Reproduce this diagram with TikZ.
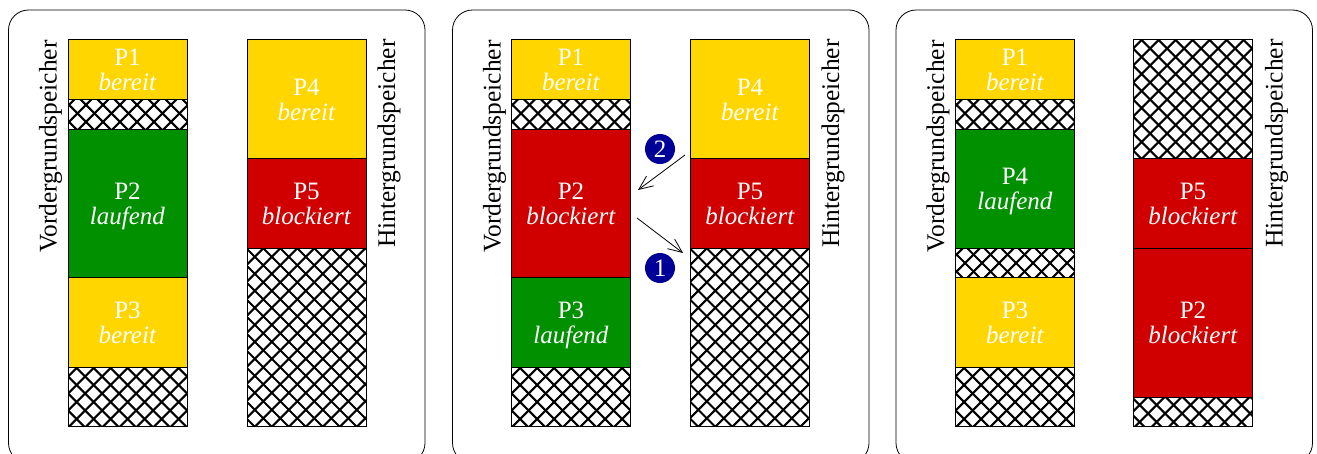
\documentclass[tikz,border=0pt]{standalone}
\usepackage{fontspec}
\setmainfont{Liberation Serif}
\usetikzlibrary{arrows.meta}
\definecolor{ygold}{RGB}{255,214,0}
\definecolor{rred}{RGB}{208,0,0}
\definecolor{ggreen}{RGB}{0,144,0}
\definecolor{nblue}{RGB}{0,0,153}
\tikzset{
  x=1pt,y=-1pt,
  panel/.style={draw=black,line width=0.8pt,rounded corners=20pt},
  block/.style={draw=black,line width=0.8pt,text=white,inner sep=0pt,outer sep=0pt,align=center,minimum width=119pt,anchor=north west,font=\fontsize{25}{25}\selectfont},
  voidblock/.style={inner sep=0pt,outer sep=0pt,minimum width=119pt,anchor=north west},
  memlabel/.style={rotate=90,inner sep=0pt,font=\fontsize{25.4}{26}\selectfont,text=black},
  badge/.style={circle,fill=nblue,text=white,inner sep=0pt,minimum size=30pt,font=\fontsize{25}{26}\selectfont},
  move/.style={draw=black,line width=0.8pt,-{Straight Barb[length=14pt,width=12pt,line width=0.8pt]}},
}
% \blk{name}{x}{y1}{y2}{colour}{first line}{second line}
\newcommand{\blk}[7]{%
  \pgfmathsetmacro{\hh}{#4-#3}%
  \node[block,fill=#5,minimum height=\hh pt] (#1) at (#2,#3) {\rule{0pt}{24.5pt}#6\\\strut\textit{#7}};}
% \hatchblk{name}{x}{y1}{y2}{crossing x offset}{crossing y offset}
\newcommand{\hatchblk}[6]{%
  \pgfmathsetmacro{\hh}{#4-#3}%
  \node[voidblock,minimum height=\hh pt] (#1) at (#2,#3) {};
  \begin{scope}
    \clip (#2,#3) rectangle ++(119,\hh);
    \foreach \k in {-40,...,40}{
      \draw[line width=2.1pt] (#2+#5+\k*17-300,#3+#6-300) -- ++(600,600);
      \draw[line width=2.1pt] (#2+#5+\k*17+300,#3+#6-300) -- ++(-600,600);
    }
  \end{scope}
  \draw[line width=0.8pt] (#2,#3) rectangle ++(119,\hh);}
% \frameset{prefix}{offset}
\newcommand{\frameset}[2]{%
  \draw[panel] (#2+8.5,10) rectangle (#2+425,463);
  \node[memlabel] (#1v) at (#2+50.5,146.5) {Vordergrundspeicher};
  \node[memlabel] (#1h) at (#2+389,143.5) {Hintergrundspeicher};}
\begin{document}
\begin{tikzpicture}
\useasboundingbox (0,0) rectangle (1317,453);
\clip (0,0) rectangle (1317,453);
% panel 1
\frameset{a}{0}
\blk{a1}{68}{39.5}{99}{ygold}{P1}{bereit}
\hatchblk{ah1}{68}{99}{129}{9.5}{14.3}
\blk{a2}{68}{129}{277.5}{ggreen}{P2}{laufend}
\blk{a3}{68}{277.5}{367}{ygold}{P3}{bereit}
\hatchblk{ah2}{68}{367}{426.5}{8.7}{1}
\blk{a4}{247}{39.5}{158.5}{ygold}{P4}{bereit}
\blk{a5}{247}{158.5}{248}{rred}{P5}{blockiert}
\hatchblk{ah3}{247}{248}{426.5}{16.3}{0.3}
% panel 2
\frameset{b}{444}
\blk{b1}{511.5}{39.5}{99}{ygold}{P1}{bereit}
\hatchblk{bh1}{511.5}{99}{129}{9.5}{14.3}
\blk{b2}{511.5}{129}{277.5}{rred}{P2}{blockiert}
\blk{b3}{511.5}{277.5}{367}{ggreen}{P3}{laufend}
\hatchblk{bh2}{511.5}{367}{426.5}{8.7}{1}
\blk{b4}{690.5}{39.5}{158.5}{ygold}{P4}{bereit}
\blk{b5}{690.5}{158.5}{248}{rred}{P5}{blockiert}
\hatchblk{bh3}{690.5}{248}{426.5}{16.3}{0.3}
\node[badge] (n2) at (660,149) {2};
\node[badge] (n1) at (660,268) {1};
\coordinate (s2) at (685,155);
\coordinate (e2) at (638,190);
\coordinate (s1) at (637,218);
\coordinate (e1) at (683,253);
\draw[move] (s2) -- (e2);
\draw[move] (s1) -- (e1);
% panel 3
\frameset{c}{887.5}
\blk{c1}{955.5}{39.5}{99}{ygold}{P1}{bereit}
\hatchblk{ch1}{955.5}{99}{129}{9.5}{14.3}
\blk{c2}{955.5}{129}{248}{ggreen}{P4}{laufend}
\hatchblk{ch2}{955.5}{248}{277.5}{9.5}{15}
\blk{c3}{955.5}{277.5}{367}{ygold}{P3}{bereit}
\hatchblk{ch3}{955.5}{367}{426.5}{8.7}{1}
\hatchblk{ch4}{1133.5}{39.5}{158.5}{8.2}{0.5}
\blk{c5}{1133.5}{158.5}{248}{rred}{P5}{blockiert}
\blk{c6}{1133.5}{248}{397}{rred}{P2}{blockiert}
\hatchblk{ch5}{1133.5}{397}{426.5}{23.2}{8}
\end{tikzpicture}
\end{document}
